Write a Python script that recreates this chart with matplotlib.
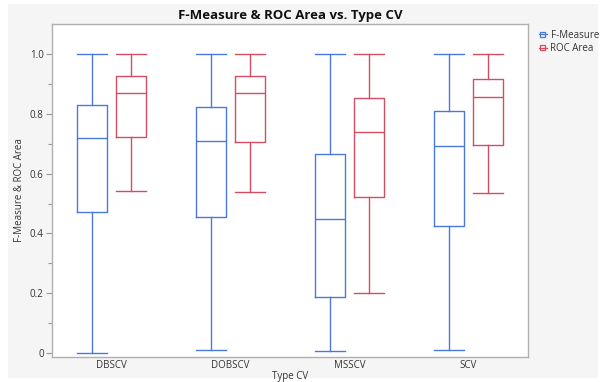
import matplotlib
matplotlib.use("Agg")
import matplotlib.pyplot as plt
from matplotlib.patches import Rectangle
from matplotlib.lines import Line2D
from matplotlib.legend_handler import HandlerBase
import numpy as np

categories = ["DBSCV", "DOBSCV", "MSSCV", "SCV"]
series = ["F-Measure", "ROC Area"]

f_min = [0.002, 0.009, 0.006, 0.009]
f_q1 = [0.473, 0.454, 0.187, 0.425]
f_med = [0.719, 0.708, 0.447, 0.692]
f_q3 = [0.828, 0.821, 0.667, 0.808]
f_max = [1.0, 1.0, 1.0, 1.0]

r_min = [0.543, 0.540, 0.202, 0.534]
r_q1 = [0.723, 0.706, 0.523, 0.696]
r_med = [0.871, 0.871, 0.738, 0.856]
r_q3 = [0.925, 0.925, 0.854, 0.915]
r_max = [1.0, 1.0, 1.0, 1.0]

yticks = [0, 0.2, 0.4, 0.6, 0.8, 1.0]
yticklabels = ["0", "0.2", "0.4", "0.6", "0.8", "1.0"]

blue = "#4a78dc"
red = "#d24e62"

plt.rcParams['font.family'] = ['Open Sans', 'DejaVu Sans']

fig = plt.figure(figsize=(6.03, 3.82), dpi=100, facecolor="white")
fig.patches.append(Rectangle((8/603, 4/382), 590/603, 374/382, transform=fig.transFigure,
                             facecolor="#f5f5f5", edgecolor="none", zorder=-10))
ax = fig.add_axes([52/603, 1 - 357/382, 476/603, 333/382])
ax.set_facecolor("white")

def stats(mins, q1s, meds, q3s, maxs):
    return [dict(whislo=a, q1=b, med=c, q3=d, whishi=e, fliers=[])
            for a, b, c, d, e in zip(mins, q1s, meds, q3s, maxs)]

x = np.arange(len(categories))
off = 0.166
w = 0.25
for st, pos, col in [(stats(f_min, f_q1, f_med, f_q3, f_max), x - off, blue),
                     (stats(r_min, r_q1, r_med, r_q3, r_max), x + off, red)]:
    lp = dict(color=col, linewidth=1.0)
    ax.bxp(st, positions=pos, widths=w, showfliers=False, capwidths=w,
           boxprops=lp, whiskerprops=lp, capprops=lp, medianprops=lp)

ax.set_xlim(-0.5, 3.5)
ax.set_ylim(-0.013, 1.1)
ax.set_xticks(x)
ax.set_xticklabels(categories, fontsize=7, color="#333333")
ax.tick_params(axis="x", length=0, pad=2)
ax.set_yticks(yticks)
ax.set_yticklabels(yticklabels, fontsize=7, color="#333333")
ax.set_yticks(np.arange(0.1, 1.05, 0.2), minor=True)
ax.tick_params(axis="y", which="major", length=4, color="#999999", width=0.8, pad=2)
ax.tick_params(axis="y", which="minor", length=3, color="#999999", width=0.8)
for s in ax.spines.values():
    s.set_color("#b0b0b0")
    s.set_linewidth(1.0)

fig.text(290/603, 1 - 376/382, "Type CV", ha="center", va="center", fontsize=7, color="#333333")
fig.text(20/603, 1 - 190/382, "F-Measure & ROC Area", ha="center", va="center", rotation=90,
         fontsize=7, color="#333333")
fig.text(290/603, 1 - 15/382, "F-Measure & ROC Area vs. Type CV", ha="center", va="center",
         fontsize=9.5, fontweight="bold", color="#111111")

class BoxHandler(HandlerBase):
    def create_artists(self, legend, orig_handle, xdescent, ydescent, width, height, fontsize, trans):
        col = orig_handle.get_color()
        cx = width / 2 - xdescent
        bw = width * 0.5
        bh = height * 0.75
        r = Rectangle((cx - bw / 2, -ydescent + (height - bh) / 2), bw, bh, facecolor="none",
                      edgecolor=col, linewidth=0.9, transform=trans)
        l = Line2D([cx - bw * 0.85, cx + bw * 0.85], [height / 2 - ydescent] * 2, color=col,
                   linewidth=0.9, transform=trans)
        return [r, l]

handles = [Line2D([], [], color=blue), Line2D([], [], color=red)]
leg = fig.legend(handles, series, loc="upper left", bbox_to_anchor=(533/603, 1 - 25/382),
                 frameon=False, fontsize=7, handler_map={Line2D: BoxHandler()},
                 handlelength=1.0, handletextpad=0.3, labelspacing=0.25, borderpad=0)
for t in leg.get_texts():
    t.set_color("#333333")

fig.savefig("out.png", dpi=100, facecolor="white")
